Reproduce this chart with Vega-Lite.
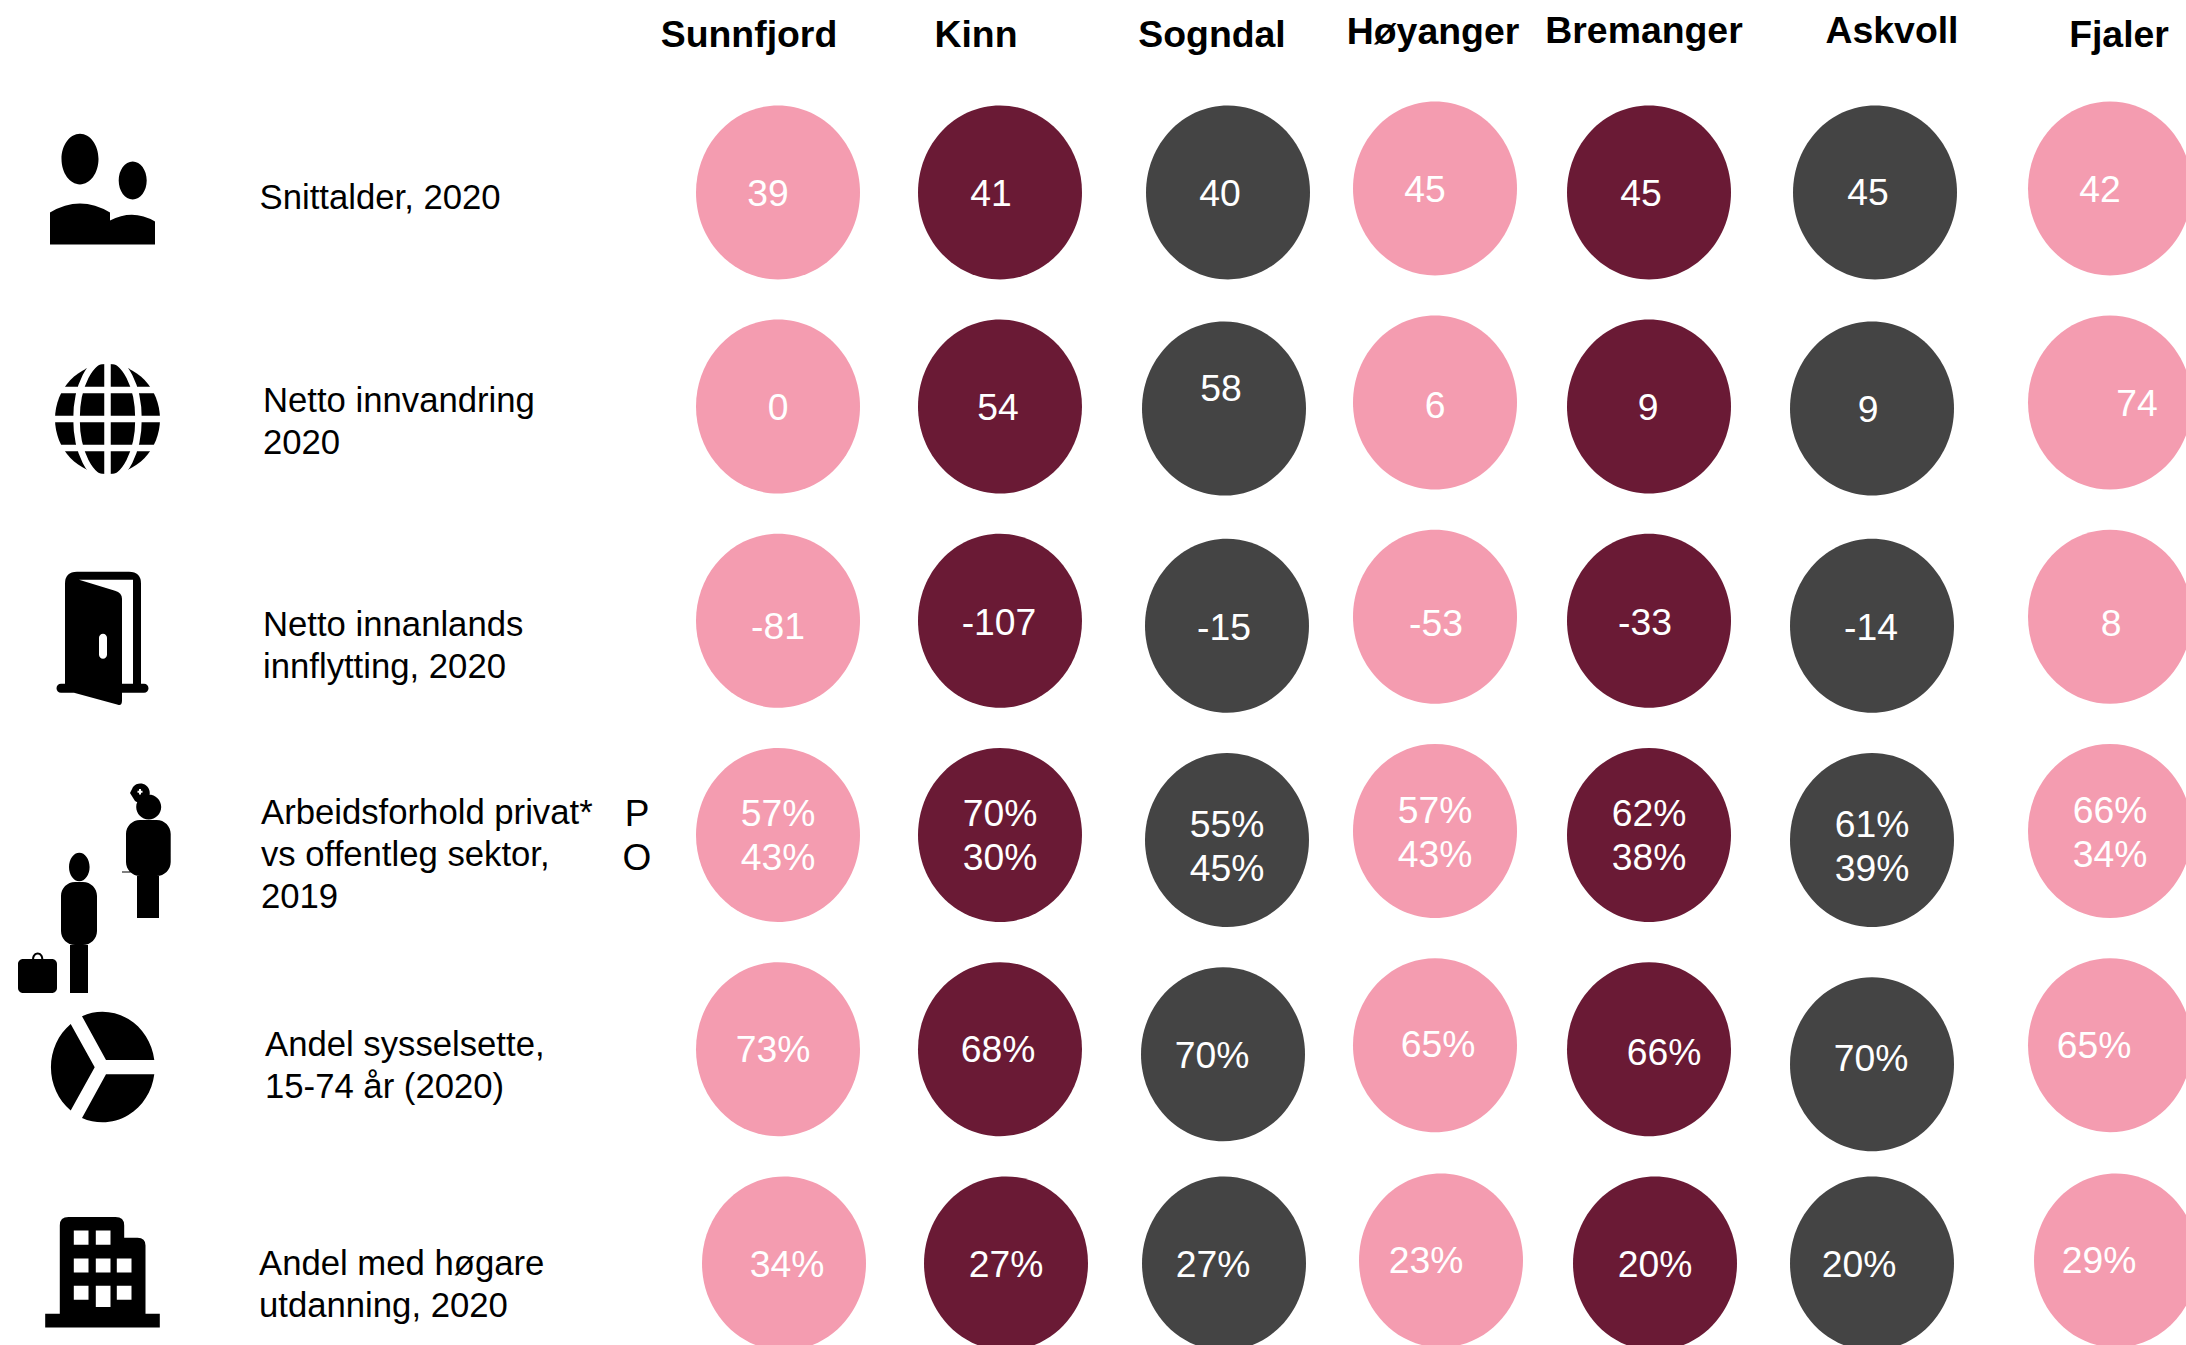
{
"$schema":"https://vega.github.io/schema/vega-lite/v6.json",
"width":2186,"height":1345,"padding":0,"autosize":{"type":"none"},"background":"white",
"config":{"view":{"stroke":null},"text":{"font":"Liberation Sans","fontSize":37.3,"lineHeight":44,"color":"white","lineBreak":"\n","align":"center","baseline":"middle"}},
"datasets":{
"celler":[
{"rad":1,"kol":1,"kommune":"Sunnfjord","verdi":"39"},{"rad":1,"kol":2,"kommune":"Kinn","verdi":"41"},{"rad":1,"kol":3,"kommune":"Sogndal","verdi":"40"},{"rad":1,"kol":4,"kommune":"Høyanger","verdi":"45"},{"rad":1,"kol":5,"kommune":"Bremanger","verdi":"45"},{"rad":1,"kol":6,"kommune":"Askvoll","verdi":"45"},{"rad":1,"kol":7,"kommune":"Fjaler","verdi":"42"},
{"rad":2,"kol":1,"kommune":"Sunnfjord","verdi":"0"},{"rad":2,"kol":2,"kommune":"Kinn","verdi":"54"},{"rad":2,"kol":3,"kommune":"Sogndal","verdi":"58"},{"rad":2,"kol":4,"kommune":"Høyanger","verdi":"6"},{"rad":2,"kol":5,"kommune":"Bremanger","verdi":"9"},{"rad":2,"kol":6,"kommune":"Askvoll","verdi":"9"},{"rad":2,"kol":7,"kommune":"Fjaler","verdi":"74"},
{"rad":3,"kol":1,"kommune":"Sunnfjord","verdi":"-81"},{"rad":3,"kol":2,"kommune":"Kinn","verdi":"-107"},{"rad":3,"kol":3,"kommune":"Sogndal","verdi":"-15"},{"rad":3,"kol":4,"kommune":"Høyanger","verdi":"-53"},{"rad":3,"kol":5,"kommune":"Bremanger","verdi":"-33"},{"rad":3,"kol":6,"kommune":"Askvoll","verdi":"-14"},{"rad":3,"kol":7,"kommune":"Fjaler","verdi":"8"},
{"rad":4,"kol":1,"kommune":"Sunnfjord","verdi":"57%\n43%"},{"rad":4,"kol":2,"kommune":"Kinn","verdi":"70%\n30%"},{"rad":4,"kol":3,"kommune":"Sogndal","verdi":"55%\n45%"},{"rad":4,"kol":4,"kommune":"Høyanger","verdi":"57%\n43%"},{"rad":4,"kol":5,"kommune":"Bremanger","verdi":"62%\n38%"},{"rad":4,"kol":6,"kommune":"Askvoll","verdi":"61%\n39%"},{"rad":4,"kol":7,"kommune":"Fjaler","verdi":"66%\n34%"},
{"rad":5,"kol":1,"kommune":"Sunnfjord","verdi":"73%"},{"rad":5,"kol":2,"kommune":"Kinn","verdi":"68%"},{"rad":5,"kol":3,"kommune":"Sogndal","verdi":"70%"},{"rad":5,"kol":4,"kommune":"Høyanger","verdi":"65%"},{"rad":5,"kol":5,"kommune":"Bremanger","verdi":"66%"},{"rad":5,"kol":6,"kommune":"Askvoll","verdi":"70%"},{"rad":5,"kol":7,"kommune":"Fjaler","verdi":"65%"},
{"rad":6,"kol":1,"kommune":"Sunnfjord","verdi":"34%"},{"rad":6,"kol":2,"kommune":"Kinn","verdi":"27%"},{"rad":6,"kol":3,"kommune":"Sogndal","verdi":"27%"},{"rad":6,"kol":4,"kommune":"Høyanger","verdi":"23%"},{"rad":6,"kol":5,"kommune":"Bremanger","verdi":"20%"},{"rad":6,"kol":6,"kommune":"Askvoll","verdi":"20%"},{"rad":6,"kol":7,"kommune":"Fjaler","verdi":"29%"}
],
"kommunar":[{"kol":1,"rad":1,"kommune":"Sunnfjord"},{"kol":2,"rad":1,"kommune":"Kinn"},{"kol":3,"rad":1,"kommune":"Sogndal"},{"kol":4,"rad":1,"kommune":"Høyanger"},{"kol":5,"rad":1,"kommune":"Bremanger"},{"kol":6,"rad":1,"kommune":"Askvoll"},{"kol":7,"rad":1,"kommune":"Fjaler"}],
"rader":[
{"rad":1,"kol":0,"indikator":"Snittalder, 2020"},
{"rad":2,"kol":0,"indikator":"Netto innvandring\n2020"},
{"rad":3,"kol":0,"indikator":"Netto innanlands\ninnflytting, 2020"},
{"rad":4,"kol":0,"indikator":"Arbeidsforhold privat*\nvs offentleg sektor,\n2019","sektor":"P\nO"},
{"rad":5,"kol":0,"indikator":"Andel sysselsette,\n15-74 år (2020)"},
{"rad":6,"kol":0,"indikator":"Andel med høgare\nutdanning, 2020"}
]},
"encoding":{
"x":{"field":"kol","type":"quantitative","axis":null,"scale":{"domain":[0,1,2,3,4,5,6,7],"range":[262,778,1000,1227,1435,1649,1872,2110],"nice":false,"zero":false}},
"y":{"field":"rad","type":"quantitative","axis":null,"scale":{"domain":[1,6],"range":[192.4,1263.4],"nice":false,"zero":false}}
},
"layer":[
{"data":{"name":"celler"},
"encoding":{"color":{"field":"kommune","type":"nominal","legend":null,"scale":{"domain":["Sunnfjord","Kinn","Sogndal","Høyanger","Bremanger","Askvoll","Fjaler"],"range":["#F49CB0","#6A1A35","#444444","#F49CB0","#6A1A35","#444444","#F49CB0"]}}},
"layer":[
{"transform":[{"filter":"(datum.kol==1||datum.kol==2||datum.kol==5)&&datum.rad<=5"}],"mark":{"type":"point","filled":true,"opacity":1,"size":4,"shape":"M-82,0 A82,87 0 1 1 82,0 A82,87 0 1 1 -82,0Z"}},
{"transform":[{"filter":"(datum.kol==1||datum.kol==2||datum.kol==5)&&datum.rad==6"}],"mark":{"type":"point","filled":true,"opacity":1,"size":4,"xOffset":6,"shape":"M-82,0 A82,87 0 1 1 82,0 A82,87 0 1 1 -82,0Z"}},
{"transform":[{"filter":"(datum.kol==4||datum.kol==7)&&datum.rad<=5"}],"mark":{"type":"point","filled":true,"opacity":1,"size":4,"yOffset":-4,"shape":"M-82,0 A82,87 0 1 1 82,0 A82,87 0 1 1 -82,0Z"}},
{"transform":[{"filter":"(datum.kol==4||datum.kol==7)&&datum.rad==6"}],"mark":{"type":"point","filled":true,"opacity":1,"size":4,"xOffset":6,"yOffset":-3,"shape":"M-82,0 A82,87 0 1 1 82,0 A82,87 0 1 1 -82,0Z"}},
{"transform":[{"filter":"datum.kol==3&&datum.rad==1"}],"mark":{"type":"point","filled":true,"opacity":1,"size":4,"xOffset":1,"shape":"M-82,0 A82,87 0 1 1 82,0 A82,87 0 1 1 -82,0Z"}},
{"transform":[{"filter":"datum.kol==6&&datum.rad==1"}],"mark":{"type":"point","filled":true,"opacity":1,"size":4,"xOffset":3,"shape":"M-82,0 A82,87 0 1 1 82,0 A82,87 0 1 1 -82,0Z"}},
{"transform":[{"filter":"datum.kol==3&&datum.rad==2"}],"mark":{"type":"point","filled":true,"opacity":1,"size":4,"xOffset":-3,"yOffset":2,"shape":"M-82,0 A82,87 0 1 1 82,0 A82,87 0 1 1 -82,0Z"}},
{"transform":[{"filter":"datum.kol==6&&datum.rad==2"}],"mark":{"type":"point","filled":true,"opacity":1,"size":4,"yOffset":2,"shape":"M-82,0 A82,87 0 1 1 82,0 A82,87 0 1 1 -82,0Z"}},
{"transform":[{"filter":"datum.kol==3&&datum.rad==6"}],"mark":{"type":"point","filled":true,"opacity":1,"size":4,"xOffset":-3,"shape":"M-82,0 A82,87 0 1 1 82,0 A82,87 0 1 1 -82,0Z"}},
{"transform":[{"filter":"datum.kol==6&&datum.rad==6"}],"mark":{"type":"point","filled":true,"opacity":1,"size":4,"shape":"M-82,0 A82,87 0 1 1 82,0 A82,87 0 1 1 -82,0Z"}},
{"transform":[{"filter":"(datum.kol==3||datum.kol==6)&&datum.rad>=3&&datum.rad<=4"}],"mark":{"type":"point","filled":true,"opacity":1,"size":4,"yOffset":5,"shape":"M-82,0 A82,87 0 1 1 82,0 A82,87 0 1 1 -82,0Z"}},
{"transform":[{"filter":"datum.kol==3&&datum.rad==5"}],"mark":{"type":"point","filled":true,"opacity":1,"size":4,"xOffset":-4,"yOffset":5,"shape":"M-82,0 A82,87 0 1 1 82,0 A82,87 0 1 1 -82,0Z"}},
{"transform":[{"filter":"datum.kol==6&&datum.rad==5"}],"mark":{"type":"point","filled":true,"opacity":1,"size":4,"yOffset":15,"shape":"M-82,0 A82,87 0 1 1 82,0 A82,87 0 1 1 -82,0Z"}}
]},
{"data":{"name":"celler"},
"encoding":{"text":{"field":"verdi","type":"nominal"}},
"layer":[
{"transform":[{"filter":"datum.rad==1&&datum.kol==1"}],"mark":{"type":"text","xOffset":-10,"yOffset":3}},
{"transform":[{"filter":"datum.rad==1&&datum.kol==2"}],"mark":{"type":"text","xOffset":-9,"yOffset":3}},
{"transform":[{"filter":"datum.rad==1&&datum.kol==3"}],"mark":{"type":"text","xOffset":-7,"yOffset":3}},
{"transform":[{"filter":"datum.rad==1&&datum.kol==4"}],"mark":{"type":"text","xOffset":-10,"yOffset":-1}},
{"transform":[{"filter":"datum.rad==1&&datum.kol==5"}],"mark":{"type":"text","xOffset":-8,"yOffset":3}},
{"transform":[{"filter":"datum.rad==1&&datum.kol==6"}],"mark":{"type":"text","xOffset":-4,"yOffset":2}},
{"transform":[{"filter":"datum.rad==1&&datum.kol==7"}],"mark":{"type":"text","xOffset":-10,"yOffset":-1}},
{"transform":[{"filter":"datum.rad==2&&datum.kol==1"}],"mark":{"type":"text","yOffset":2}},
{"transform":[{"filter":"datum.rad==2&&datum.kol==2"}],"mark":{"type":"text","xOffset":-2,"yOffset":2}},
{"transform":[{"filter":"datum.rad==2&&datum.kol==3"}],"mark":{"type":"text","xOffset":-6,"yOffset":-17}},
{"transform":[{"filter":"datum.rad==2&&datum.kol==4"}],"mark":{"type":"text","yOffset":0}},
{"transform":[{"filter":"datum.rad==2&&datum.kol==5"}],"mark":{"type":"text","xOffset":-1,"yOffset":2}},
{"transform":[{"filter":"datum.rad==2&&datum.kol==6"}],"mark":{"type":"text","xOffset":-4,"yOffset":4}},
{"transform":[{"filter":"datum.rad==2&&datum.kol==7"}],"mark":{"type":"text","xOffset":27,"yOffset":-2}},
{"transform":[{"filter":"datum.rad==3&&datum.kol==1"}],"mark":{"type":"text","yOffset":7}},
{"transform":[{"filter":"datum.rad==3&&datum.kol==2"}],"mark":{"type":"text","xOffset":-1,"yOffset":3}},
{"transform":[{"filter":"datum.rad==3&&datum.kol==3"}],"mark":{"type":"text","xOffset":-3,"yOffset":8}},
{"transform":[{"filter":"datum.rad==3&&datum.kol==4"}],"mark":{"type":"text","xOffset":1,"yOffset":4}},
{"transform":[{"filter":"datum.rad==3&&datum.kol==5"}],"mark":{"type":"text","xOffset":-4,"yOffset":3}},
{"transform":[{"filter":"datum.rad==3&&datum.kol==6"}],"mark":{"type":"text","xOffset":-1,"yOffset":8}},
{"transform":[{"filter":"datum.rad==3&&datum.kol==7"}],"mark":{"type":"text","xOffset":1,"yOffset":4}},
{"transform":[{"filter":"datum.rad==4&&(datum.kol==1||datum.kol==2||datum.kol==5)"}],"mark":{"type":"text","yOffset":-20}},
{"transform":[{"filter":"datum.rad==4&&(datum.kol==3||datum.kol==6)"}],"mark":{"type":"text","yOffset":-9}},
{"transform":[{"filter":"datum.rad==4&&(datum.kol==4||datum.kol==7)"}],"mark":{"type":"text","yOffset":-23}},
{"transform":[{"filter":"datum.rad==5&&datum.kol==1"}],"mark":{"type":"text","xOffset":-5,"yOffset":2}},
{"transform":[{"filter":"datum.rad==5&&datum.kol==2"}],"mark":{"type":"text","xOffset":-2,"yOffset":2}},
{"transform":[{"filter":"datum.rad==5&&datum.kol==3"}],"mark":{"type":"text","xOffset":-15,"yOffset":8}},
{"transform":[{"filter":"datum.rad==5&&datum.kol==4"}],"mark":{"type":"text","xOffset":3,"yOffset":-3}},
{"transform":[{"filter":"datum.rad==5&&datum.kol==5"}],"mark":{"type":"text","xOffset":15,"yOffset":5}},
{"transform":[{"filter":"datum.rad==5&&datum.kol==6"}],"mark":{"type":"text","xOffset":-1,"yOffset":11}},
{"transform":[{"filter":"datum.rad==5&&datum.kol==7"}],"mark":{"type":"text","xOffset":-16,"yOffset":-2}},
{"transform":[{"filter":"datum.rad==6&&datum.kol==1"}],"mark":{"type":"text","xOffset":9,"yOffset":3}},
{"transform":[{"filter":"datum.rad==6&&datum.kol==2"}],"mark":{"type":"text","xOffset":6,"yOffset":3}},
{"transform":[{"filter":"datum.rad==6&&datum.kol==3"}],"mark":{"type":"text","xOffset":-14,"yOffset":3}},
{"transform":[{"filter":"datum.rad==6&&datum.kol==4"}],"mark":{"type":"text","xOffset":-9,"yOffset":-1}},
{"transform":[{"filter":"datum.rad==6&&datum.kol==5"}],"mark":{"type":"text","xOffset":6,"yOffset":3}},
{"transform":[{"filter":"datum.rad==6&&datum.kol==6"}],"mark":{"type":"text","xOffset":-13,"yOffset":3}},
{"transform":[{"filter":"datum.rad==6&&datum.kol==7"}],"mark":{"type":"text","xOffset":-11,"yOffset":-1}}
]},
{"data":{"name":"kommunar"},
"encoding":{"text":{"field":"kommune","type":"nominal"}},
"layer":[
{"transform":[{"filter":"datum.kol==1"}],"mark":{"type":"text","color":"black","fontWeight":"bold","fontSize":37.4,"xOffset":-29,"yOffset":-156}},
{"transform":[{"filter":"datum.kol==2"}],"mark":{"type":"text","color":"black","fontWeight":"bold","fontSize":37.4,"xOffset":-24,"yOffset":-156}},
{"transform":[{"filter":"datum.kol==3"}],"mark":{"type":"text","color":"black","fontWeight":"bold","fontSize":37.4,"xOffset":-15,"yOffset":-156}},
{"transform":[{"filter":"datum.kol==4"}],"mark":{"type":"text","color":"black","fontWeight":"bold","fontSize":37.4,"xOffset":-2,"yOffset":-159}},
{"transform":[{"filter":"datum.kol==5"}],"mark":{"type":"text","color":"black","fontWeight":"bold","fontSize":37.4,"xOffset":-5,"yOffset":-160}},
{"transform":[{"filter":"datum.kol==6"}],"mark":{"type":"text","color":"black","fontWeight":"bold","fontSize":37.4,"xOffset":20,"yOffset":-160}},
{"transform":[{"filter":"datum.kol==7"}],"mark":{"type":"text","color":"black","fontWeight":"bold","fontSize":37.4,"xOffset":9,"yOffset":-156}}
]},
{"data":{"name":"rader"},
"encoding":{"text":{"field":"indikator","type":"nominal"}},
"layer":[
{"transform":[{"filter":"datum.rad==1"}],"mark":{"type":"text","color":"black","align":"left","fontSize":34.7,"lineHeight":42,"xOffset":-2.5,"yOffset":7}},
{"transform":[{"filter":"datum.rad==2"}],"mark":{"type":"text","color":"black","align":"left","fontSize":34.7,"lineHeight":42,"xOffset":1,"yOffset":-5}},
{"transform":[{"filter":"datum.rad==3"}],"mark":{"type":"text","color":"black","align":"left","fontSize":34.7,"lineHeight":42,"xOffset":1,"yOffset":5}},
{"transform":[{"filter":"datum.rad==4"}],"mark":{"type":"text","color":"black","align":"left","fontSize":34.7,"lineHeight":42,"xOffset":-1,"yOffset":-21}},
{"transform":[{"filter":"datum.rad==5"}],"mark":{"type":"text","color":"black","align":"left","fontSize":34.7,"lineHeight":42,"xOffset":3,"yOffset":-3}},
{"transform":[{"filter":"datum.rad==6"}],"mark":{"type":"text","color":"black","align":"left","fontSize":34.7,"lineHeight":42,"xOffset":-3,"yOffset":2}}
]},
{"data":{"name":"rader"},"transform":[{"filter":"datum.rad==4"}],"encoding":{"text":{"field":"sektor","type":"nominal"}},"mark":{"type":"text","color":"black","fontSize":37,"lineHeight":44,"xOffset":375,"yOffset":-20}},
{"data":{"name":"rader"},"transform":[{"filter":"datum.rad==1"}],"mark":{"type":"point","filled":true,"opacity":1,"color":"black","size":4,"xOffset":-160,"yOffset":-4,"shape":"M-40.5,-29.3 A18.5,25.3 0 1 1 -3.5,-29.3 A18.5,25.3 0 1 1 -40.5,-29.3Z M16.7,-8 A14,19 0 1 1 44.7,-8 A14,19 0 1 1 16.7,-8Z M-52,56 L-52,24 Q-22,6 8,24 L8,32 Q31,20 53,33 L53,56Z"}},
{"data":{"name":"rader"},"transform":[{"filter":"datum.rad==2"}],"mark":{"type":"point","filled":true,"opacity":1,"color":"black","size":4,"xOffset":-154.5,"yOffset":12.4,"shape":"M-52.5,0 A52.5,55 0 1 1 52.5,0 A52.5,55 0 1 1 -52.5,0Z"}},
{"data":{"name":"rader"},"transform":[{"filter":"datum.rad==2"}],"mark":{"type":"point","filled":false,"opacity":1,"color":"white","strokeWidth":6.5,"size":4,"xOffset":-154.5,"yOffset":12.4,"shape":"M0,-60 L0,60 M-60,-29 L60,-29 M-60,0 L60,0 M-60,29 L60,29 M-31,0 A31,60 0 1 1 31,0 A31,60 0 1 1 -31,0"}},
{"data":{"name":"rader"},"transform":[{"filter":"datum.rad==3"}],"mark":{"type":"point","filled":true,"opacity":1,"color":"black","size":4,"xOffset":-160,"yOffset":17,"shape":"M-37,46 L-37,-54 Q-37,-66 -25,-66 L27,-66 Q39,-66 39,-54 L39,46 L31,46 L31,-58 L-23,-58 L13,-47 Q20,-45 20,-39 L20,63 Q20,68 16,67 L-28,55 L-37,55Z M-41,46 L42,46 A4.5,4.5 0 0 1 42,55 L-41,55 A4.5,4.5 0 0 1 -41,46Z M-3,0 L-3,17 A4,4 0 0 0 5,17 L5,0 A4,4 0 0 0 -3,0Z"}},
{"data":{"name":"rader"},"transform":[{"filter":"datum.rad==4"}],"mark":{"type":"point","filled":true,"opacity":1,"color":"black","size":4,"xOffset":-167,"yOffset":36,"shape":"M41.2,-64 A12.5,12.5 0 1 1 66.2,-64 A12.5,12.5 0 1 1 41.2,-64Z M35,-78 L38,-84 A9.5,9.5 0 1 1 40,-70Z M44,-82 L44,-80.3 L42.5,-80.3 L42.5,-78.3 L44,-78.3 L44,-76.5 L46,-76.5 L46,-78.3 L47.5,-78.3 L47.5,-80.3 L46,-80.3 L46,-82Z M45,-51 L61.7,-51 A14,14 0 0 1 75.7,-37 L75.7,-9 A14,14 0 0 1 61.7,5 L45,5 A14,14 0 0 1 31,-9 L31,-37 A14,14 0 0 1 45,-51Z M42,5 L64,5 L64,47 L42,47Z M27,0.5 L37,0.5 L37,1.5 L27,1.5Z M-26,-4 A10.3,14.3 0 1 1 -5.4,-4 A10.3,14.3 0 1 1 -26,-4Z M-20,11 L-12,11 A14,14 0 0 1 2,25 L2,60 A14,14 0 0 1 -12,74 L-20,74 A14,14 0 0 1 -34,60 L-34,25 A14,14 0 0 1 -20,11Z M-25,74 L-7,74 L-7,122 L-25,122Z M-72,88 L-43,88 A5,5 0 0 1 -38,93 L-38,117 A5,5 0 0 1 -43,122 L-72,122 A5,5 0 0 1 -77,117 L-77,93 A5,5 0 0 1 -72,88Z M-62.9,88 A5.6,6.5 0 0 1 -51.7,88 L-53.7,88 A3.6,4.5 0 0 0 -60.9,88Z"}},
{"data":{"name":"rader"},"transform":[{"filter":"datum.rad==5"}],"mark":{"type":"point","filled":true,"opacity":1,"color":"black","size":4,"xOffset":-160,"yOffset":18,"shape":"M4,-7.3 L52.3,-7.3 A52.3,55.3 0 0 0 -20,-51Z M4,7 L52.3,7 A52.3,55.3 0 0 1 -20,50.7Z M-7.3,0 L-31.3,-43.3 A52.3,55.3 0 0 0 -31.3,43.3Z"}},
{"data":{"name":"rader"},"transform":[{"filter":"datum.rad==6"}],"mark":{"type":"point","filled":true,"opacity":1,"color":"black","size":4,"xOffset":-159.5,"yOffset":9,"shape":"M-57.3,41.3 L-42.7,41.3 L-42.7,-47 Q-42.7,-55.3 -34,-55.3 L13,-55.3 Q21.7,-55.3 21.7,-47 L21.7,-34.7 L35,-34.7 Q43,-34.7 43,-27 L43,41.3 L57.3,41.3 L57.3,55 L-57.3,55Z M-28.7,-42 L-28.7,-27.7 L-14,-27.7 L-14,-42Z M-6.7,-42 L-6.7,-27.7 L8,-27.7 L8,-42Z M-28.7,-14 L-28.7,0 L-14,0 L-14,-14Z M-6.7,-14 L-6.7,0 L8,0 L8,-14Z M14.3,-14 L14.3,0 L29,0 L29,-14Z M-28.7,13.3 L-28.7,27.3 L-14,27.3 L-14,13.3Z M-6.7,13.3 L-6.7,34.7 L8,34.7 L8,13.3Z M14.3,13.3 L14.3,27.3 L29,27.3 L29,13.3Z"}}
]
}
